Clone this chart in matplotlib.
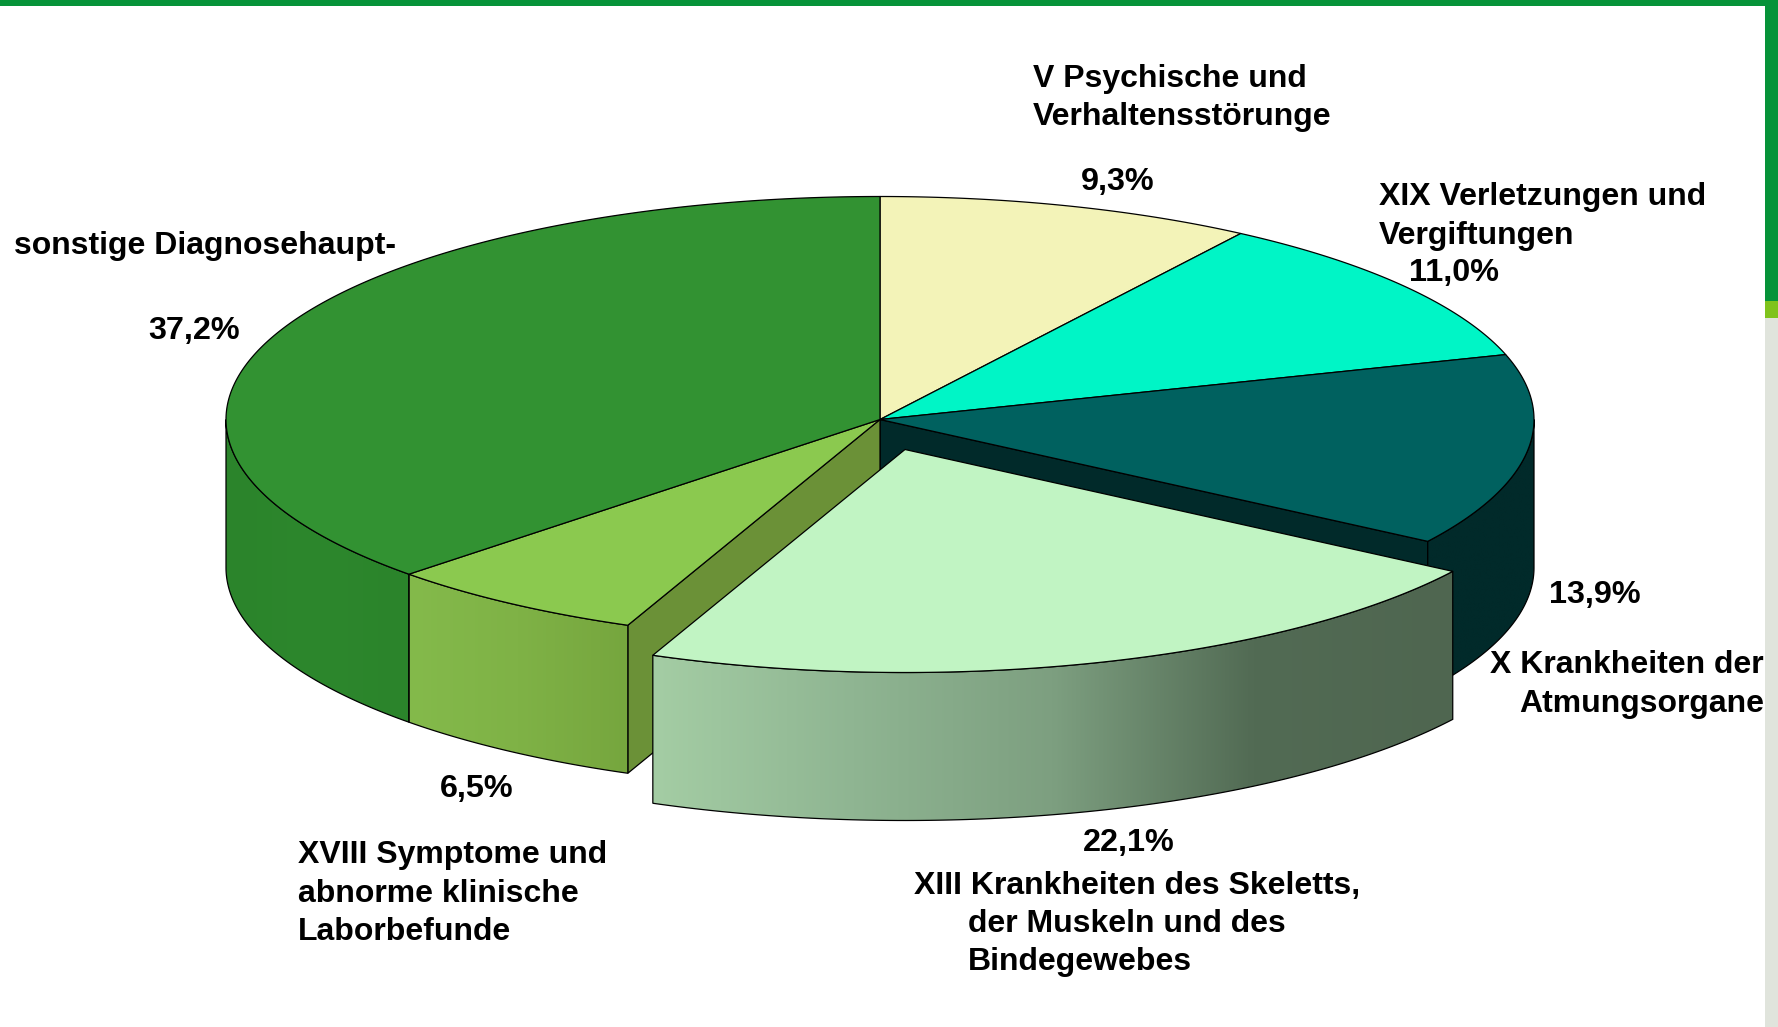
import matplotlib
matplotlib.use('Agg')
import matplotlib.pyplot as plt
from matplotlib.colors import to_rgb
from matplotlib.patches import Polygon, Rectangle
import numpy as np

plt.rcParams['font.family'] = ['Liberation Sans', 'DejaVu Sans']

# shares clockwise from 12 o'clock
categories = ['V', 'XIX', 'X', 'XIII', 'XVIII', 'sonstige']
shares = [9.3, 11.0, 13.9, 22.1, 6.5, 37.2]
top_colors = ['#F3F3B8', '#00F5C6', '#00615F', '#C1F4C3', '#8BC94F', '#329232']
wall_stops = [
    ['#F3F3B8', '#F3F3B8'],
    ['#00F5C6', '#00F5C6'],
    ['#012A2A', '#012A2A'],
    ['#A4CDA4', '#8FB592', '#7D9F80', '#526B54', '#4F6650'],
    ['#84BA4B', '#7FB246', '#76A63E'],
    ['#2B842B', '#2D872D', '#2B842B'],
]
cut_colors = {'X': '#012A2A', 'XIII': '#6B9137'}
exploded = 'XIII'

# pie geometry in pixels
W, H = 1778, 1027
cx, cy = 880, 419.5
rx, ry = 654, 223
depth = 148
ex_dx, ex_dy = 25, 30

fig = plt.figure(figsize=(W / 100, H / 100), dpi=100, facecolor='white')
ax = fig.add_axes([0, 0, 1, 1])
ax.set_axis_off()


def rim(t, dx=0, dy=0, dz=0):
    rad = np.radians(t)
    return np.column_stack([cx + dx + rx * np.sin(rad), cy + dy + dz - ry * np.cos(rad)])


def wall(t0, t1, stops, dx=0, dy=0, z=2):
    # outer side of a slice, gradient runs left to right on screen
    t = np.linspace(t0, t1, 120)
    upper = rim(t, dx, dy)
    lower = rim(t, dx, dy, depth)
    pts = np.vstack([upper, lower[::-1]])
    x0, x1 = pts[:, 0].min(), pts[:, 0].max()
    y0, y1 = pts[:, 1].min(), pts[:, 1].max()
    rgb = np.array([to_rgb(c) for c in stops])
    pos = np.linspace(0, 1, len(stops))
    u = np.linspace(0, 1, 300)
    img = np.stack([np.interp(u, pos, rgb[:, i]) for i in range(3)], axis=1)[None, :, :]
    im = ax.imshow(img, extent=(x0, x1, y1, y0), aspect='auto', zorder=z, interpolation='bilinear')
    clip = Polygon(pts, closed=True, transform=ax.transData)
    im.set_clip_path(clip)
    ax.add_patch(Polygon(pts, closed=True, fill=False, edgecolor='black', lw=0.9, zorder=z + 0.1))


bounds = np.concatenate([[0], np.cumsum(shares)]) * 3.6

# cut faces left open by the pulled out slice
ex_i = categories.index(exploded)
for t, col in [(bounds[ex_i], cut_colors['X']), (bounds[ex_i + 1], cut_colors['XIII'])]:
    edge = rim(np.array([t]))[0]
    ax.add_patch(Polygon([[cx, cy], edge, edge + [0, depth], [cx, cy + depth]], closed=True,
                         facecolor=col, edgecolor='black', lw=0.9, zorder=1))

for i, name in enumerate(categories):
    t0, t1 = bounds[i], bounds[i + 1]
    dx, dy = (ex_dx, ex_dy) if name == exploded else (0, 0)
    base = 5 if name == exploded else 2
    a, b = max(t0, 90), min(t1, 270)
    if a < b:
        wall(a, b, wall_stops[i], dx, dy, z=base)
    t = np.linspace(t0, t1, 200)
    pts = np.vstack([[cx + dx, cy + dy], rim(t, dx, dy)])
    ax.add_patch(Polygon(pts, closed=True, facecolor=top_colors[i], edgecolor='black',
                         lw=0.9, joinstyle='round', zorder=base + 1))

# slide frame
ax.add_patch(Rectangle((0, 0), W, 6, facecolor='#069339', edgecolor='none', zorder=10))
ax.add_patch(Rectangle((1765, 0), 13, 301, facecolor='#069339', edgecolor='none', zorder=10))
ax.add_patch(Rectangle((1765, 301), 13, 17, facecolor='#7FC31C', edgecolor='none', zorder=10))
ax.add_patch(Rectangle((1765, 318), 13, H - 318, facecolor='#E0E4DC', edgecolor='none', zorder=10))

label_lines = [
    ('V Psychische und', 1033, 87, 'left'),
    ('Verhaltensstörunge', 1033, 125, 'left'),
    ('XIX Verletzungen und', 1379, 205, 'left'),
    ('Vergiftungen', 1379, 244, 'left'),
    ('X Krankheiten der', 1764, 673, 'right'),
    ('Atmungsorgane', 1764, 712, 'right'),
    ('XIII Krankheiten des Skeletts,', 914, 894, 'left'),
    ('der Muskeln und des', 968, 932, 'left'),
    ('Bindegewebes', 968, 970, 'left'),
    ('XVIII Symptome und', 298, 863, 'left'),
    ('abnorme klinische', 298, 902, 'left'),
    ('Laborbefunde', 298, 940, 'left'),
    ('sonstige Diagnosehaupt-', 14, 254, 'left'),
]
pct_x = [1118, 1454, 1595, 1129, 477, 194]
pct_y = [190, 281, 603, 851, 797, 339]

for text, x, y, ha in label_lines:
    ax.text(x, y, text, fontsize=23.05, fontweight='bold', color='black', ha=ha, va='baseline', zorder=12)
for v, x, y in zip(shares, pct_x, pct_y):
    ax.text(x, y, f'{v:.1f}%'.replace('.', ','), fontsize=23.3, fontweight='bold', color='black',
            ha='center', va='baseline', zorder=12)

ax.set_xlim(0, W)
ax.set_ylim(H, 0)
fig.savefig('out.png', dpi=100, facecolor='white')
